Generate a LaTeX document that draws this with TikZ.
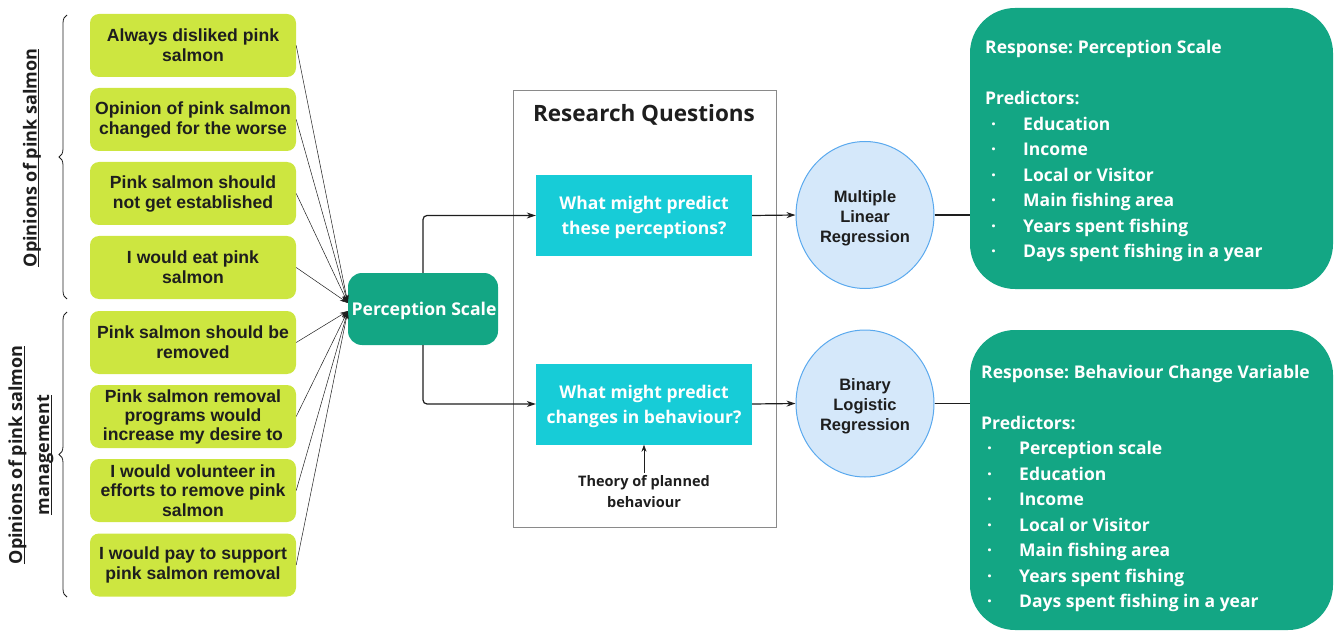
\documentclass[tikz,border=0pt]{standalone}
\usepackage{fontspec}
\setmainfont{Open Sans}
\newfontfamily\arialf{Liberation Sans}
\usetikzlibrary{arrows.meta,decorations.pathreplacing,calc,shapes.geometric}
\definecolor{optlime}{HTML}{CDE640}
\definecolor{tealg}{HTML}{13A684}
\definecolor{qcyan}{HTML}{17CCD7}
\definecolor{cfill}{HTML}{D5E8FA}
\definecolor{cdraw}{HTML}{5AA9EE}
\definecolor{rqgray}{HTML}{8A8A8A}
\definecolor{txtc}{HTML}{1E1E1E}
\newcommand\pitem[1]{\hspace*{6pt}\makebox[32pt][l]{·}#1}
\newcommand\myul[1]{\setbox0\hbox{#1}\rlap{\rule[-2.6pt]{\wd0}{1pt}}\box0}
\begin{document}
\frenchspacing
\begin{tikzpicture}[x=1pt,y=-1pt,
  opbox/.style={fill=optlime, rounded corners=9pt, minimum width=206pt, minimum height=63pt,
    inner sep=0pt, align=center, text=txtc, font=\arialf\bfseries\fontsize{17.6}{20}\selectfont},
  psbox/.style={fill=tealg, rounded corners=14pt, minimum width=150pt, minimum height=72pt,
    inner sep=0pt},
  pstext/.style={text=white, inner sep=0pt, font=\bfseries\fontsize{17.6}{20}\selectfont},
  qbox/.style={fill=qcyan, minimum width=216pt, minimum height=81pt, inner sep=0pt},
  qtext/.style={align=center, inner sep=0pt, text=white, font=\bfseries\fontsize{17.5}{25}\selectfont},
  regell/.style={ellipse, draw=cdraw, line width=1pt, fill=cfill, minimum width=138pt,
    minimum height=147pt, inner sep=0pt},
  regtext/.style={align=center, inner sep=0pt, text=txtc,
    font=\arialf\bfseries\fontsize{16.5}{20}\selectfont},
  respbox/.style={fill=tealg, rounded corners=45pt, minimum width=363pt, inner sep=0pt},
  resptext/.style={anchor=west, align=left, inner sep=0pt, text=white,
    font=\bfseries\fontsize{17.5}{25.5}\selectfont},
  sidelabel/.style={rotate=90, align=center, text=txtc, font=\bfseries\fontsize{18}{27}\selectfont},
  bracestyle/.style={decorate, decoration={brace, amplitude=8pt}, line width=0.8pt, txtc},
  thinarrow/.style={-{Stealth[length=8pt,width=5pt]}, line width=0.5pt, txtc},
  mainarrow/.style={-{Stealth[length=9pt,width=6pt]}, line width=1.2pt, txtc, rounded corners=4pt},
  plainline/.style={line width=1.5pt, txtc}
]
\useasboundingbox (0,0) rectangle (1336,631);

% opinion boxes
\node[opbox] (o1) at (193,45.5) {Always disliked pink\\salmon};
\node[opbox] (o2) at (193,119.5) {Opinion of pink salmon\\changed for the worse};
\node[opbox] (o3) at (193,193.5) {Pink salmon should\\not get established};
\node[opbox] (o4) at (193,267.5) {I would eat pink\\salmon};
\node[opbox] (o5) at (193,342.5) {Pink salmon should be\\removed};
\node[opbox, font=\arialf\bfseries\fontsize{17.6}{19}\selectfont] (o6) at (193,416.5) {Pink salmon removal\\programs would\\increase my desire to};
\node[opbox, font=\arialf\bfseries\fontsize{17.6}{19.5}\selectfont] (o7) at (193,490.5) {I would volunteer in\\efforts to remove pink\\salmon};
\node[opbox] (o8) at (193,565) {I would pay to support\\pink salmon removal};

% braces and side labels
\draw[bracestyle] (67,299) -- (67,15);
\draw[bracestyle] (67,597) -- (67,312);
\node[sidelabel] (lab1) at (32,158) {\myul{Opinions of pink salmon}};
\node[sidelabel] (lab2) at (31,455) {\myul{Opinions of pink salmon}\\\myul{management}};

% perception scale
\node[psbox] (ps) at (423,309) {};
\node[pstext] (pst) at (424,311) {Perception Scale};
\coordinate (pinA) at ($(ps.west)+(0,-6)$);
\coordinate (pinB) at ($(ps.west)+(0,2)$);
\foreach \i in {1,2,3,4} \draw[thinarrow] (o\i.east) -- (pinA);
\foreach \i in {5,6,7,8} \draw[thinarrow] (o\i.east) -- (pinB);

% research questions
\node[draw=rqgray, line width=0.9pt, minimum width=263pt, minimum height=437pt, inner sep=0pt] (rq) at (644.5,308.5) {};
\node[text=txtc, font=\bfseries\fontsize{22.5}{26}\selectfont, inner sep=0pt] (rqt) at (644,115) {Research Questions};
\node[qbox] (q1) at (644,215.5) {};
\node[qtext] (q1t) at (644,217.5) {What might predict\\these perceptions?};
\node[qbox] (q2) at (644,404) {};
\node[qtext] (q2t) at (644,406) {What might predict\\changes in behaviour?};
\node[align=center, text=txtc, font=\bfseries\fontsize{14.5}{21}\selectfont, inner sep=0pt] (tpb) at (644,492) {Theory of planned\\behaviour};

\draw[mainarrow] (ps.north) |- (q1.west);
\draw[mainarrow] (ps.south) |- (q2.west);
\draw[-{Stealth[length=7pt,width=5pt]}, line width=0.8pt, txtc] ($(tpb.north)+(0,-3)$) -- (q2.south);

% regression ellipses
\node[regell] (c1) at (865,215) {};
\node[regtext] (c1t) at (865,218) {Multiple\\Linear\\Regression};
\node[regell] (c2) at (865,403.5) {};
\node[regtext] (c2t) at (865,406) {Binary\\Logistic\\Regression};
\draw[mainarrow] (q1.east) -- (c1.west);
\draw[mainarrow] (q2.east) -- (c2.west);

% response boxes
\node[respbox, minimum height=281pt] (r1) at (1151.5,148.5) {};
\node[respbox, minimum height=300pt] (r2) at (1151.5,480) {};
\draw[plainline] (c1.east) -- (c1.east -| r1.west);
\draw[plainline] (c2.east) -- (c2.east -| r2.west);

\node[resptext] (t1) at (985,151) {Response: Perception Scale\\ \\Predictors:\\
\pitem{Education}\\\pitem{Income}\\\pitem{Local or Visitor}\\\pitem{Main fishing area}\\
\pitem{Years spent fishing}\\\pitem{Days spent fishing in a year}};
\node[resptext] (t2) at (981,488.5) {Response: Behaviour Change Variable\\ \\Predictors:\\
\pitem{Perception scale}\\\pitem{Education}\\\pitem{Income}\\\pitem{Local or Visitor}\\
\pitem{Main fishing area}\\\pitem{Years spent fishing}\\\pitem{Days spent fishing in a year}};
\end{tikzpicture}
\end{document}
